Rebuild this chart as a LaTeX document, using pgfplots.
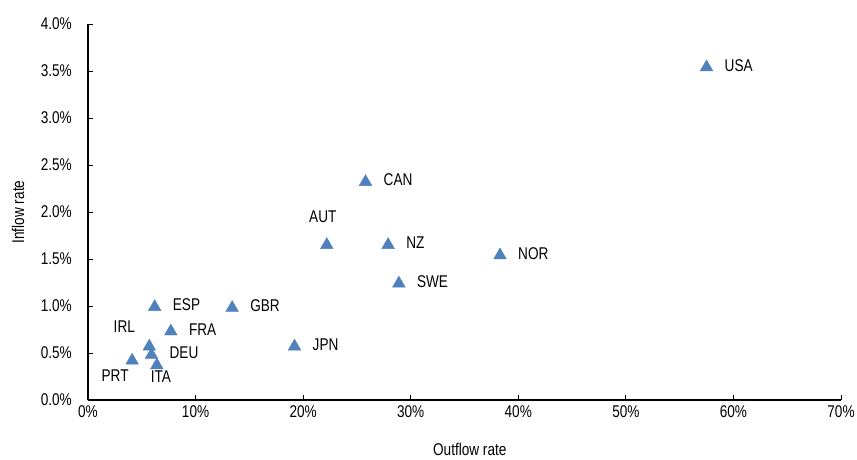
\documentclass[border=0pt]{standalone}
\usepackage{fontspec}
\setmainfont{Liberation Sans}[FakeStretch=0.8]
\usepackage{pgfplots}
\usepackage{pgfplotstable}
\pgfplotsset{compat=1.18}
\definecolor{mk}{HTML}{4F81BD}

% outflow %, inflow %, label -- labels set to the right of the mark
\pgfplotstableread{
x y lab
57.5 3.54 USA
25.8 2.32 CAN
27.9 1.65 NZ
38.3 1.54 NOR
28.9 1.24 SWE
13.4 0.98 GBR
6.2 0.99 ESP
7.7 0.73 FRA
19.2 0.57 JPN
5.9 0.48 DEU
}\rightlab

\begin{document}
\begin{tikzpicture}[font=\fontsize{17}{20}\selectfont]
\begin{axis}[
  scale only axis, width=753pt, height=376pt,
  xmin=0, xmax=70, ymin=0, ymax=4,
  clip=false,
  axis x line*=bottom, axis y line*=left,
  axis line style={line width=1.5pt, -},
  xtick={0,10,...,70}, ytick={0,0.5,...,4},
  tick style={black, line width=1pt}, major tick length=5pt,
  xticklabel={\pgfmathprintnumber{\tick}\%},
  yticklabel={\pgfmathprintnumber[fixed,fixed zerofill,precision=1]{\tick}\%},
  /pgf/number format/assume math mode=true,
  yticklabel style={inner sep=0pt, xshift=-16pt},
  xticklabel style={yshift=-2pt},
  xlabel={Outflow rate}, ylabel={Inflow rate},
  xlabel style={at={(axis description cs:0.507,-0.131)}, anchor=center},
  ylabel style={at={(axis description cs:-0.093,0.5)}, anchor=center},
  every axis plot/.append style={only marks, mark=triangle*, mark size=7.3pt, mk,
    nodes near coords, point meta=explicit symbolic,
    nodes near coords style={inner sep=0pt, text=black}},
]
\addplot[nodes near coords style={anchor=west, xshift=18pt, yshift=2pt}]
  table[x=x, y=y, meta=lab]{\rightlab};
\addplot[nodes near coords style={anchor=center, xshift=-4pt, yshift=28pt}]
  table[meta=lab]{
x y lab
22.2 1.65 AUT
};
\addplot[nodes near coords style={anchor=center, xshift=-25pt, yshift=20pt}]
  table[meta=lab]{
x y lab
5.7 0.57 IRL
};
\addplot[nodes near coords style={anchor=center, xshift=-17pt, yshift=-15pt}]
  table[meta=lab]{
x y lab
4.1 0.42 PRT
};
\addplot[nodes near coords style={anchor=center, xshift=4pt, yshift=-11pt}]
  table[meta=lab]{
x y lab
6.4 0.37 ITA
};
\end{axis}
\pgfresetboundingbox
\path (current axis.south west) ++(-88pt,-59pt) rectangle ++(857pt,459pt);
\end{tikzpicture}
\end{document}
